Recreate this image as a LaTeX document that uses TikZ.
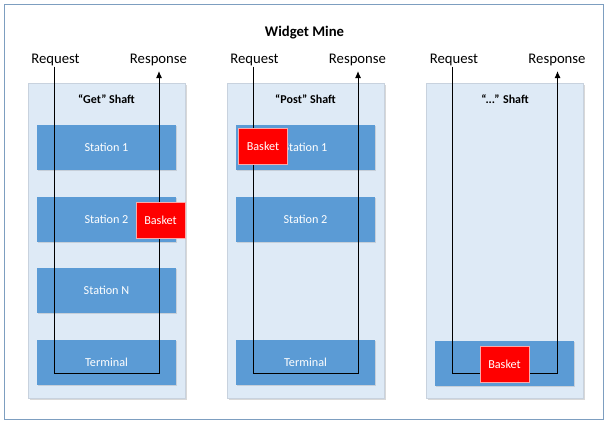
\documentclass[tikz,border=0pt]{standalone}
\usepackage{fontspec}
\setmainfont{Carlito}
\usetikzlibrary{arrows.meta,shadows}
\definecolor{framec}{RGB}{125,158,192}
\definecolor{shaftfill}{RGB}{222,234,246}
\definecolor{shaftdraw}{RGB}{200,210,222}
\definecolor{stationfill}{RGB}{91,155,213}
\definecolor{basketdraw}{RGB}{250,170,170}
\tikzset{
  shaftbox/.style={draw=shaftdraw, fill=shaftfill, line width=0.8pt, minimum width=157pt, minimum height=315pt, inner sep=0pt,
    drop shadow={shadow xshift=1.5pt, shadow yshift=-1.5pt, opacity=0.25, fill=black!60}},
  stationbox/.style={fill=stationfill, minimum width=139pt, minimum height=45pt, inner sep=0pt, text=white, font=\fontsize{12.2}{14}\selectfont,
    drop shadow={shadow xshift=1pt, shadow yshift=-1pt, opacity=0.2, fill=black!60}},
  basketbox/.style={fill=red, draw=basketdraw, line width=0.8pt, minimum width=49pt, minimum height=36pt, inner sep=0pt, text=white, font=\fontsize{12.2}{14}\selectfont},
  shaftlabel/.style={font=\bfseries\fontsize{12}{14}\selectfont, inner sep=1pt},
  flowlabel/.style={font=\fontsize{14.7}{17}\selectfont, inner sep=1pt},
  flowline/.style={draw=black, line width=1pt},
  flowarrow/.style={flowline, -{Latex[length=7pt,width=6pt]}},
}
\begin{document}
\begin{tikzpicture}[x=1pt,y=-1pt]
\useasboundingbox (0,0) rectangle (607,426);
\fill[white] (0,0) rectangle (607,426);
\draw[framec, line width=1pt] (4,4) rectangle (603,419);

\node[font=\bfseries\fontsize{14.7}{17}\selectfont] (title) at (304.5,33) {Widget Mine};

% Shafts
\foreach \n/\cx in {1/106.5,2/305.5,3/505}{
  \node[shaftbox] (shaft\n) at (\cx,240.5) {};
}
\node[shaftlabel] (lab1) at (106.5,99.5) {“Get” Shaft};
\node[shaftlabel] (lab2) at (305.5,99.5) {“Post” Shaft};
\node[shaftlabel] (lab3) at (505,99.5) {“...” Shaft};

% Stations
\node[stationbox] (s11) at (106.5,147.5) {Station 1};
\node[stationbox] (s12) at (106.5,219.5) {Station 2};
\node[stationbox] (s1n) at (106.5,290.5) {Station N};
\node[stationbox] (s1t) at (106.5,362.5) {Terminal};
\node[stationbox] (s21) at (305.5,147) {Station 1};
\node[stationbox] (s22) at (305.5,219) {Station 2};
\node[stationbox] (s2t) at (305.5,362.5) {Terminal};
\node[stationbox] (s3t) at (504.5,363) {};

% Labels and flow lines
\foreach \n/\cx in {1/106.5,2/305.5,3/505}{
  \node[flowlabel] (req\n) at (\cx-51,59.5) {Request};
  \node[flowlabel] (resp\n) at (\cx+52,59.5) {Response};
  \coordinate (bl\n) at (\cx-52.5,373);
  \coordinate (br\n) at (\cx+52.5,373);
  \coordinate (rt\n) at (\cx+52.5,71);
  \draw[flowarrow] (req\n.south -| bl\n) -- (bl\n) -- (br\n) -- (rt\n);
}

% Baskets
\node[basketbox] (b1) at (160.5,220) {Basket};
\node[basketbox] (b2) at (263,146.5) {Basket};
\node[basketbox] (b3) at (504.5,364) {Basket};
\end{tikzpicture}
\end{document}
